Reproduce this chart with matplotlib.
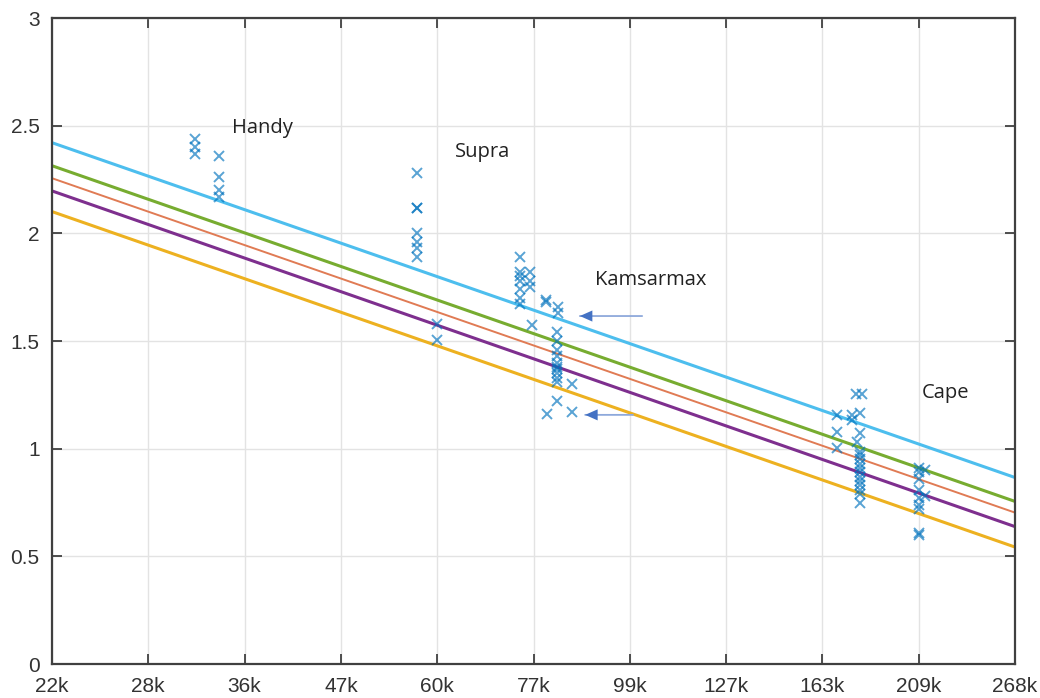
import numpy as np
import matplotlib
matplotlib.use("Agg")
import matplotlib.pyplot as plt

# ==========================================================
# DONNÉES
# ==========================================================

# axe x (logarithmique), en milliers
tick_labels = ['22k', '28k', '36k', '47k', '60k', '77k', '99k', '127k', '163k', '209k', '268k']
x_min, x_max = 22000, 268000

# droites de référence (valeurs aux deux bornes)
fit_x = [22000, 268000]
line_cyan = [2.421, 0.866]
line_green = [2.314, 0.755]
line_orange = [2.256, 0.703]
line_purple = [2.197, 0.638]
line_yellow = [2.101, 0.543]

# points mesurés (x en k)
handy_x = [31.9, 31.9, 31.9, 33.9, 33.9, 33.9, 33.9]
handy_y = [2.44, 2.40, 2.37, 2.36, 2.26, 2.20, 2.17]

supra_x = [56.7, 56.7, 56.7, 56.7, 56.7, 56.7, 56.7, 59.8, 59.8]
supra_y = [2.28, 2.12, 2.12, 2.00, 1.96, 1.93, 1.89, 1.58, 1.505]

kamsar_x = [74.1, 74.1, 74.1, 74.1, 74.1, 74.1, 74.1,
            76.1, 76.1, 76.1, 76.5,
            79.3, 79.3, 81.8, 81.8,
            81.6, 81.6, 81.6, 81.6, 81.6, 81.6, 81.6, 81.6, 81.6, 81.6, 81.6,
            84.9, 84.9, 79.5]
kamsar_y = [1.89, 1.82, 1.80, 1.78, 1.74, 1.70, 1.67,
            1.82, 1.78, 1.75, 1.575,
            1.69, 1.68, 1.66, 1.63,
            1.54, 1.50, 1.46, 1.43, 1.40, 1.38, 1.37, 1.35, 1.33, 1.31, 1.22,
            1.30, 1.17, 1.16]

cape_x = [177.5, 180.0, 179.2, 179.2, 179.2, 179.2, 179.2, 179.2, 179.2, 179.2,
          179.2, 179.2, 179.2, 179.2, 179.2, 179.2,
          168.8, 168.8, 168.8, 175.5, 175.5, 177.8,
          208.8, 208.8, 208.8, 208.8, 208.8, 208.8, 208.8, 208.8, 208.8,
          212.1, 212.1]
cape_y = [1.255, 1.255, 1.166, 1.073, 0.985, 0.97, 0.95, 0.93, 0.91, 0.89,
          0.87, 0.85, 0.83, 0.81, 0.79, 0.75,
          1.157, 1.078, 1.003, 1.157, 1.133, 1.031,
          0.91, 0.89, 0.86, 0.81, 0.77, 0.74, 0.72, 0.61, 0.60,
          0.90, 0.78]

# étiquettes de groupes : (texte, x en k, y)
group_labels = [('Handy', 35.1, 2.49), ('Supra', 62.6, 2.378),
                ('Kamsarmax', 90.1, 1.784), ('Cape', 210.5, 1.259)]

# flèches : (x tête, x queue, y) en k
arrows = [(86.6, 101.8, 1.616), (87.8, 99.4, 1.157)]


def main():

    fig = plt.figure(figsize=(10.4, 6.98), dpi=100)
    ax = fig.add_axes([0.05, 0.0487, 0.926, 0.9255])

    ax.set_xscale('log')
    ax.set_xlim(x_min, x_max)
    ax.set_ylim(0, 3)

    # droites
    ax.plot(fit_x, line_cyan, color='#4DBEEE', linewidth=2.2)
    ax.plot(fit_x, line_green, color='#77AC30', linewidth=2.2)
    ax.plot(fit_x, line_orange, color='#E07B54', linewidth=1.4)
    ax.plot(fit_x, line_purple, color='#7E2F8E', linewidth=2.2)
    ax.plot(fit_x, line_yellow, color='#EDB120', linewidth=2.2)

    # points
    for xs, ys in [(handy_x, handy_y), (supra_x, supra_y),
                   (kamsar_x, kamsar_y), (cape_x, cape_y)]:
        ax.plot(np.array(xs) * 1000, ys, 'x', color='#0072BD', alpha=0.65,
                markersize=7.5, markeredgewidth=1.4)

    # textes
    for txt, xk, yv in group_labels:
        ax.text(xk * 1000, yv, txt, fontsize=14.5, family=['Open Sans', 'DejaVu Sans'],
                color='#222222', ha='left', va='center')

    # flèches : tige claire + pointe foncée
    for xh, xt, yv in arrows:
        ax.annotate('', xy=(xh * 1000, yv), xytext=(xt * 1000, yv),
                    arrowprops=dict(arrowstyle='-', color='#8EA9DB', linewidth=1.3,
                                    shrinkA=0, shrinkB=0))
        ax.annotate('', xy=(xh * 1000, yv), xytext=(xt * 1000, yv),
                    arrowprops=dict(arrowstyle='-|>,head_length=0.9,head_width=0.4',
                                    color='#4472C4', linewidth=0,
                                    shrinkA=0, shrinkB=0))

    # axes
    ticks = np.geomspace(x_min, x_max, len(tick_labels))
    ax.set_xticks(ticks)
    ax.set_xticklabels(tick_labels)
    ax.xaxis.set_minor_locator(matplotlib.ticker.NullLocator())
    ax.set_yticks([0, 0.5, 1, 1.5, 2, 2.5, 3])
    ax.set_yticklabels(['0', '0.5', '1', '1.5', '2', '2.5', '3'])

    ax.tick_params(direction='in', length=7, width=1.3, colors='#404040',
                   labelsize=15, labelcolor='#333333', top=True, right=True)
    ax.tick_params(axis='x', pad=9)
    ax.tick_params(axis='y', pad=9)
    for lab in ax.get_xticklabels() + ax.get_yticklabels():
        lab.set_family('Liberation Sans')

    for sp in ax.spines.values():
        sp.set_color('#404040')
        sp.set_linewidth(1.6)

    ax.grid(True, color='#e3e3e3', linewidth=1.0)
    ax.set_axisbelow(True)

    fig.savefig('out.png', dpi=100)


if __name__ == "__main__":
    main()
